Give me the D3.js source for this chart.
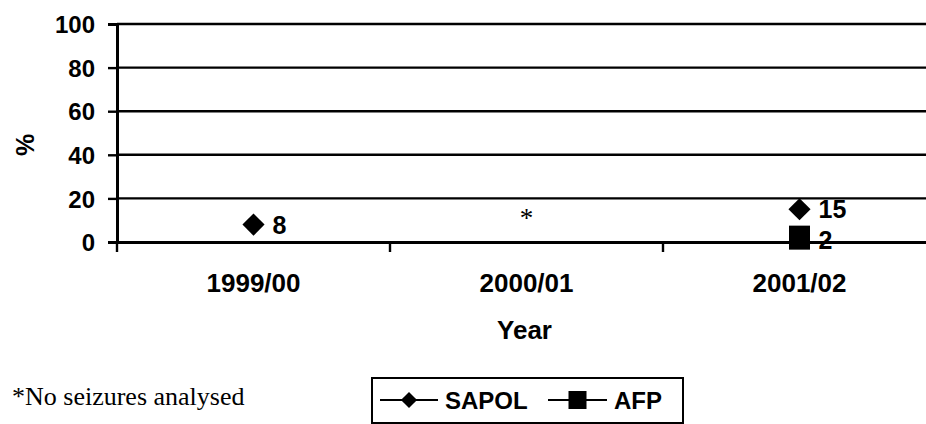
<!DOCTYPE html>
<html>
<head>
<meta charset="utf-8">
<script src="https://cdn.jsdelivr.net/npm/d3@7"></script>
<style>
  body { margin: 0; background: #fff; }
  svg { display: block; }
  text { fill: #000; }
</style>
</head>
<body>
<div id="chart"></div>
<script>

// data
var years     = ["1999/00", "2000/01", "2001/02"]
var sapol     = [8, null, 15]
var afp       = [null, null, 2]
var notes     = ["", "*", ""]
var yTicks    = [0, 20, 40, 60, 80, 100]
var footnote  = "*No seizures analysed"

var W = 926, H = 424
var margin = {top: 24, left: 117, bottom: 182}
var plotRight = 936

var svg = d3.select("#chart").append("svg")
  .attr("width", W)
  .attr("height", H)

var x = d3.scaleBand().domain(years).range([margin.left, plotRight]).padding(0)
var y = d3.scaleLinear().domain([0, 100]).range([H - margin.bottom, margin.top])

var sans = "'Liberation Sans', Arial, sans-serif"
var serif = "'Liberation Serif', 'Times New Roman', serif"

// gridlines
svg.append("g").selectAll("line").data(yTicks.filter(function(d) { return d > 0 })).enter()
  .append("line")
  .attr("x1", margin.left).attr("x2", plotRight)
  .attr("y1", function(d) { return y(d) }).attr("y2", function(d) { return y(d) })
  .attr("stroke", "#000").attr("stroke-width", 2.4)

// y axis
var yAxis = svg.append("g")
  .attr("transform", "translate(" + margin.left + ",0)")
  .call(d3.axisLeft(y).tickValues(yTicks).tickSize(9).tickPadding(13))
yAxis.select(".domain").attr("stroke-width", 3)
yAxis.selectAll(".tick line").attr("stroke-width", 2.4)
yAxis.selectAll("text")
  .attr("font-family", sans).attr("font-weight", "bold").attr("font-size", 24)
  .attr("dy", "0.36em")

// x axis (ticks at the category boundaries)
var xAxis = svg.append("g")
  .attr("transform", "translate(0," + y(0) + ")")
  .call(d3.axisBottom(x).tickSize(0).tickPadding(30))
xAxis.select(".domain").attr("stroke-width", 3)
xAxis.selectAll("text")
  .attr("font-family", sans).attr("font-weight", "bold").attr("font-size", 26)
xAxis.selectAll(".tick text").attr("y", 50).attr("dy", 0)

var bounds = x.domain().map(function(d) { return x(d) }).concat([plotRight])
xAxis.selectAll(".bound").data(bounds).enter()
  .append("line")
  .attr("class", "bound")
  .attr("x1", function(d) { return d }).attr("x2", function(d) { return d })
  .attr("y1", 0).attr("y2", 10)
  .attr("stroke", "#000").attr("stroke-width", 2.4)

// axis titles
svg.append("text")
  .attr("transform", "translate(34," + ((y(100) + y(0)) / 2 + 12) + ") rotate(-90)")
  .attr("text-anchor", "middle")
  .attr("font-family", sans).attr("font-weight", "bold").attr("font-size", 25)
  .text("%")

svg.append("text")
  .attr("x", (margin.left + plotRight) / 2 - 2)
  .attr("y", 339)
  .attr("text-anchor", "middle")
  .attr("font-family", sans).attr("font-weight", "bold").attr("font-size", 26)
  .text("Year")

function cx(i) { return x(years[i]) + x.bandwidth() / 2 }

// square rotated 45deg = the diamond marker
var diamond = d3.symbol().type(d3.symbolSquare).size(245)

// series lines (gaps where no data)
var line = d3.line()
  .defined(function(d) { return d != null })
  .x(function(d, i) { return cx(i) })
  .y(function(d) { return y(d) })
svg.append("path").datum(sapol).attr("d", line).attr("fill", "none").attr("stroke", "#000").attr("stroke-width", 2)
svg.append("path").datum(afp).attr("d", line).attr("fill", "none").attr("stroke", "#000").attr("stroke-width", 2)

// SAPOL points
var sp = sapol.map(function(v, i) { return {v: v, i: i} }).filter(function(d) { return d.v != null })
svg.selectAll(".sapol").data(sp).enter()
  .append("path")
  .attr("class", "sapol")
  .attr("d", diamond)
  .attr("transform", function(d) { return "translate(" + cx(d.i) + "," + y(d.v) + ") rotate(45)" })
  .attr("fill", "#000")
svg.selectAll(".sapol-lbl").data(sp).enter()
  .append("text")
  .attr("class", "sapol-lbl")
  .attr("x", function(d) { return cx(d.i) + 19 })
  .attr("y", function(d) { return y(d.v) })
  .attr("dy", "0.36em")
  .attr("font-family", sans).attr("font-weight", "bold").attr("font-size", 25)
  .text(function(d) { return d.v })

// AFP points
var ap = afp.map(function(v, i) { return {v: v, i: i} }).filter(function(d) { return d.v != null })
svg.selectAll(".afp").data(ap).enter()
  .append("rect")
  .attr("class", "afp")
  .attr("x", function(d) { return cx(d.i) - 10.5 })
  .attr("y", function(d) { return y(d.v) - 12 })
  .attr("width", 21).attr("height", 24)
  .attr("fill", "#000")
svg.selectAll(".afp-lbl").data(ap).enter()
  .append("text")
  .attr("class", "afp-lbl")
  .attr("x", function(d) { return cx(d.i) + 19 })
  .attr("y", function(d) { return y(d.v) + 2 })
  .attr("dy", "0.36em")
  .attr("font-family", sans).attr("font-weight", "bold").attr("font-size", 25)
  .text(function(d) { return d.v })

// "*" note for year without analysis
svg.selectAll(".note").data(notes).enter()
  .append("text")
  .attr("class", "note")
  .attr("x", function(d, i) { return cx(i) })
  .attr("y", y(0) - 15)
  .attr("text-anchor", "middle")
  .attr("font-family", serif).attr("font-size", 27)
  .text(function(d) { return d })

// footnote
svg.append("text")
  .attr("x", 12).attr("y", 405)
  .attr("font-family", serif).attr("font-size", 26)
  .text(footnote)

// legend
var lg = svg.append("g")
lg.append("rect")
  .attr("x", 372).attr("y", 378).attr("width", 311).attr("height", 45)
  .attr("fill", "#fff").attr("stroke", "#000").attr("stroke-width", 2)

var legendItems = [
  {name: "SAPOL", x0: 380, x1: 438, shape: "diamond"},
  {name: "AFP", x0: 548, x1: 607, shape: "square"}
]
legendItems.forEach(function(it) {
  var my = 400, mx = (it.x0 + it.x1) / 2
  lg.append("line").attr("x1", it.x0).attr("x2", it.x1).attr("y1", my).attr("y2", my)
    .attr("stroke", "#000").attr("stroke-width", 2)
  if (it.shape == "diamond") {
    lg.append("path").attr("d", d3.symbol().type(d3.symbolSquare).size(130))
      .attr("transform", "translate(" + mx + "," + my + ") rotate(45)").attr("fill", "#000")
  } else {
    lg.append("rect").attr("x", mx - 9).attr("y", my - 9).attr("width", 18).attr("height", 18).attr("fill", "#000")
  }
  lg.append("text").attr("x", it.x1 + 7).attr("y", my).attr("dy", "0.36em")
    .attr("font-family", sans).attr("font-weight", "bold").attr("font-size", 24)
    .text(it.name)
})

</script>
</body>
</html>
